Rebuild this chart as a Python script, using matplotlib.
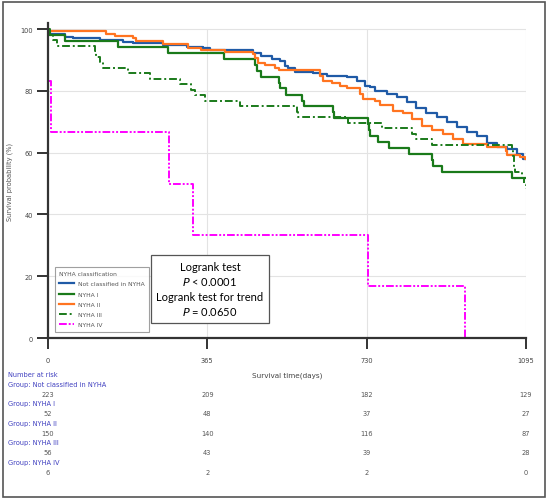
import matplotlib
matplotlib.use("Agg")
import matplotlib.pyplot as plt
import matplotlib.transforms as mtrans
from matplotlib.patches import Rectangle

# survival curves, (day, survival %) at each step
nc_days = [0, 3, 5, 39, 58, 119, 172, 195, 263, 318, 355, 371, 470, 489, 512, 531, 543, 550, 566,
           608, 623, 638, 684, 707, 726, 738, 749, 776, 799, 822, 844, 867, 890, 913, 936, 959,
           982, 1005, 1028, 1051, 1074, 1089]
nc_surv = [100, 99.1, 98.4, 97.5, 97.0, 96.4, 95.9, 95.4, 94.8, 94.3, 93.8, 93.3, 92.2, 91.4, 90.3,
           89.8, 88.2, 87.3, 86.0, 85.7, 85.4, 84.9, 84.4, 83.3, 81.7, 81.2, 80.1, 79.0, 77.9, 76.3,
           74.6, 73.0, 71.4, 69.8, 68.2, 66.8, 65.5, 63.3, 62.0, 61.2, 59.5, 57.9]

n1_days = [0, 3, 40, 161, 274, 403, 474, 478, 488, 529, 532, 545, 581, 587, 652, 655, 734, 736,
           737, 756, 781, 827, 879, 882, 902, 1062]
n1_surv = [100, 98.1, 96.2, 94.2, 92.3, 90.4, 88.5, 86.5, 84.6, 82.7, 80.8, 78.8, 76.9, 75.0, 73.1,
           71.2, 69.2, 67.3, 65.4, 63.5, 61.5, 59.6, 57.7, 55.8, 53.8, 51.9]

n2_days = [0, 3, 134, 153, 195, 201, 264, 321, 350, 405, 470, 475, 481, 497, 520, 530, 623, 630,
           650, 669, 684, 714, 722, 749, 760, 790, 813, 833, 856, 879, 905, 928, 950, 1005, 1050,
           1051, 1082, 1092]
n2_surv = [100, 99.3, 98.6, 97.8, 97.0, 96.2, 95.3, 94.0, 93.3, 92.7, 91.9, 90.8, 89.2, 88.4, 87.3,
           86.7, 84.7, 83.3, 82.7, 81.7, 81.0, 79.0, 77.3, 76.7, 75.3, 73.6, 72.7, 70.9, 68.7, 67.3,
           66.0, 64.4, 62.7, 62.0, 60.7, 59.3, 58.7, 58.0]

n3_days = [0, 5, 12, 20, 108, 110, 118, 127, 184, 234, 302, 328, 337, 360, 440, 570, 573, 688,
           764, 833, 844, 879, 1063, 1065, 1067, 1068, 1070, 1085, 1090, 1094]
n3_surv = [100, 98.2, 96.4, 94.6, 92.9, 91.1, 89.3, 87.5, 85.7, 83.9, 82.1, 80.4, 78.6, 76.8, 75.0,
           73.2, 71.4, 69.6, 67.9, 66.1, 64.3, 62.5, 60.7, 58.9, 57.1, 55.3, 53.6, 51.8, 50.0, 48.2]

n4_days = [0, 1, 7, 277, 332, 733, 955]
n4_surv = [100, 83.3, 66.7, 50.0, 33.3, 16.7, 0]

groups = ["Not classified in NYHA", "NYHA I", "NYHA II", "NYHA III", "NYHA IV"]
risk_times = [0, 365, 730, 1095]
at_risk = [[223, 209, 182, 129],
           [52, 48, 37, 27],
           [150, 140, 116, 87],
           [56, 43, 39, 28],
           [6, 2, 2, 0]]

fig = plt.figure(figsize=(5.5, 5.02), dpi=100)
ax = fig.add_axes([48/550, 163/502, 478/550, 315/502])

blue = "#1f5aa6"
green = "#1a7a1a"
orange = "#ff7420"
pink = "#ff00ff"

for x in [365, 730, 1095]:
    ax.vlines(x, 0, 100, color="#e3e3e3", lw=0.8, zorder=0)
for y in [20, 40, 60, 80, 100]:
    ax.hlines(y, 0, 1095, color="#e3e3e3", lw=0.8, zorder=0)

def km(days, surv, end=None):
    d = list(days)
    s = list(surv)
    if end is not None:
        d.append(end)
        s.append(s[-1])
    return d, s

d, s = km(nc_days, nc_surv, 1095)
ax.step(d, s, where="post", color=blue, lw=1.6, label=groups[0])
d, s = km(n1_days, n1_surv, 1095)
ax.step(d, s, where="post", color=green, lw=1.6, label=groups[1])
d, s = km(n2_days, n2_surv, 1095)
ax.step(d, s, where="post", color=orange, lw=1.6, label=groups[2])
d, s = km(n3_days, n3_surv, 1095)
ax.step(d, s, where="post", color=green, lw=1.4, ls=(0, (4, 1.5, 1, 1.5)), label=groups[3])
ax.step(n4_days, n4_surv, where="post", color=pink, lw=1.4, ls=(0, (4, 1, 1, 1, 1, 1)), label=groups[4])

ax.set_xlim(0, 1095)
ax.set_ylim(0, 102)
ax.set_xticks(risk_times)
ax.set_yticks([0, 20, 40, 60, 80, 100])
for sp in ["top", "right"]:
    ax.spines[sp].set_visible(False)
for sp in ["left", "bottom"]:
    ax.spines[sp].set_color("#333333")
    ax.spines[sp].set_linewidth(1.6)
ax.tick_params(axis="both", length=8, width=1.4, color="#333333", labelsize=4.8,
               labelcolor="#444444")
ax.tick_params(axis="x", pad=6)
ax.tick_params(axis="y", pad=3)
ax.set_ylabel("Survival probability (%)", fontsize=4.8, color="#555555", labelpad=5)
ax.set_xlabel("Survival time(days)", fontsize=5.2, color="#444444", labelpad=6)

leg = ax.legend(loc="upper left", bbox_to_anchor=(7/478, (339 - 268)/315), borderaxespad=0,
                title="NYHA classification", fontsize=4.3, title_fontsize=4.3,
                frameon=True, fancybox=False, edgecolor="#888888", handlelength=2.4,
                handletextpad=0.8, labelspacing=0.85, borderpad=0.7, alignment="left")
leg.get_frame().set_linewidth(0.8)
for t in leg.get_texts():
    t.set_color("#555555")
leg.get_title().set_color("#555555")

fig.text(210/550, 1 - 290/502,
         "Logrank test\n$P$ < 0.0001\nLogrank test for trend\n$P$ = 0.0650",
         ha="center", va="center", fontsize=8, family="Lato", linespacing=1.35,
         bbox=dict(boxstyle="square,pad=0.5", fc="white", ec="#555555", lw=0.9))

# number at risk table
tr = mtrans.blended_transform_factory(ax.transData, fig.transFigure)
fig.text(8/550, 1 - 375/502, "Number at risk", fontsize=4.8, color="#4040c0", va="center")
for i, g in enumerate(groups):
    ylab = 385 + i * 19.5
    fig.text(8/550, 1 - ylab/502, "Group: " + g, fontsize=4.8, color="#4040c0", va="center")
    for t, n in zip(risk_times, at_risk[i]):
        ax.text(t, 1 - (ylab + 10)/502, str(n), transform=tr, fontsize=4.8,
                color="#555555", ha="center", va="center")

fig.patches.append(Rectangle((3/550, 4/502), 542/550, 495/502, transform=fig.transFigure,
                             fill=False, ec="#555555", lw=1.2))

fig.savefig("out.png", dpi=100)
